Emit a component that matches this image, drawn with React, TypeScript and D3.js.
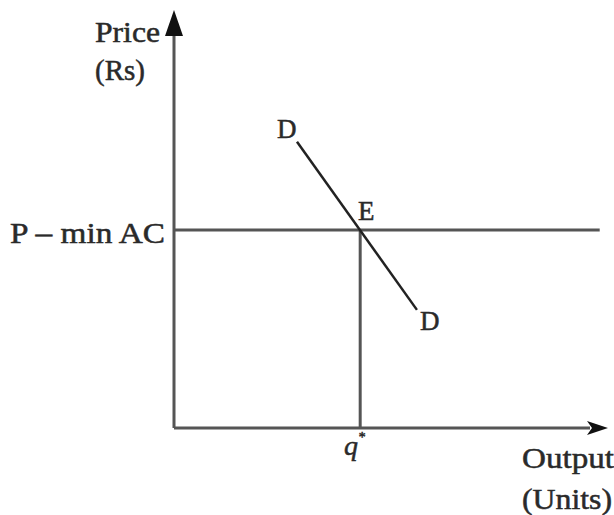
import React from "react";
import * as d3 from "d3";

// Data (economic units, domain 0..100)
const qStar = [43.3];
const priceLevel = [47.6];
const demandX = [28.6, 56.5];
const demandY = [68.8, 28.4];
const horizEnd = [99];
const axisLabels = ["Price", "(Rs)", "Output", "(Units)"];
const curveLabels = ["D", "E", "D"];
const priceLabel = ["P – min AC"];

const W = 614;
const H = 515;

export default function App() {
  const x = d3.scaleLinear().domain([0, 100]).range([174, 604]);
  const y = d3.scaleLinear().domain([0, 100]).range([428, 12]);
  const line = d3
    .line<[number, number]>()
    .x((d) => x(d[0]))
    .y((d) => y(d[1]));
  const demand: [number, number][] = demandX.map((v, i) => [v, demandY[i]]);
  const stroke = "#555";
  const tc = "#2a2a2a";
  const fs = 29;
  return (
    <svg
      width={W}
      height={H}
      style={{ position: "absolute", left: 0, top: 0, background: "#fff" }}
    >
      {/* axes */}
      <line x1={x(0)} y1={y(0)} x2={x(0)} y2={30} stroke={stroke} strokeWidth={3} />
      <path d={`M${x(0)},10 L${x(0) + 9},36 L${x(0) - 9},36 Z`} fill="#111" />
      <line x1={x(0)} y1={y(0)} x2={590} y2={y(0)} stroke={stroke} strokeWidth={3} />
      <path
        d={`M608,${y(0)} L587,${y(0) - 7} L592,${y(0)} L587,${y(0) + 7} Z`}
        fill="#111"
      />
      {/* P = min AC */}
      <line
        x1={x(0)}
        y1={y(priceLevel[0])}
        x2={x(horizEnd[0])}
        y2={y(priceLevel[0])}
        stroke={stroke}
        strokeWidth={3}
      />
      {/* q* vertical */}
      <line
        x1={x(qStar[0])}
        y1={y(priceLevel[0])}
        x2={x(qStar[0])}
        y2={y(0)}
        stroke={stroke}
        strokeWidth={3}
      />
      {/* demand */}
      <path d={line(demand) || ""} stroke="#222" strokeWidth={2.5} fill="none" />

      <g
        style={{ fontFamily: "Liberation Serif" }}
        fill={tc}
        stroke={tc}
        strokeWidth={0.5}
        fontSize={fs}
      >
        <text x={95} y={42} textLength={65} lengthAdjust="spacingAndGlyphs">{axisLabels[0]}</text>
        <text x={95} y={80} textLength={50} lengthAdjust="spacingAndGlyphs">{axisLabels[1]}</text>
        <text x={522} y={468} textLength={92} lengthAdjust="spacingAndGlyphs">{axisLabels[2]}</text>
        <text x={522} y={509} textLength={90} lengthAdjust="spacingAndGlyphs">{axisLabels[3]}</text>
        <text x={10} y={243} textLength={155} lengthAdjust="spacingAndGlyphs">{priceLabel[0]}</text>
        <text x={277} y={138} fontSize={27}>{curveLabels[0]}</text>
        <text x={358} y={220} fontSize={27}>{curveLabels[1]}</text>
        <text x={420} y={330} fontSize={27}>{curveLabels[2]}</text>
        <text x={344} y={455} fontStyle="italic" fontSize={28}>
          q<tspan fontSize={14} dy={-13}>*</tspan>
        </text>
      </g>
    </svg>
  );
}
